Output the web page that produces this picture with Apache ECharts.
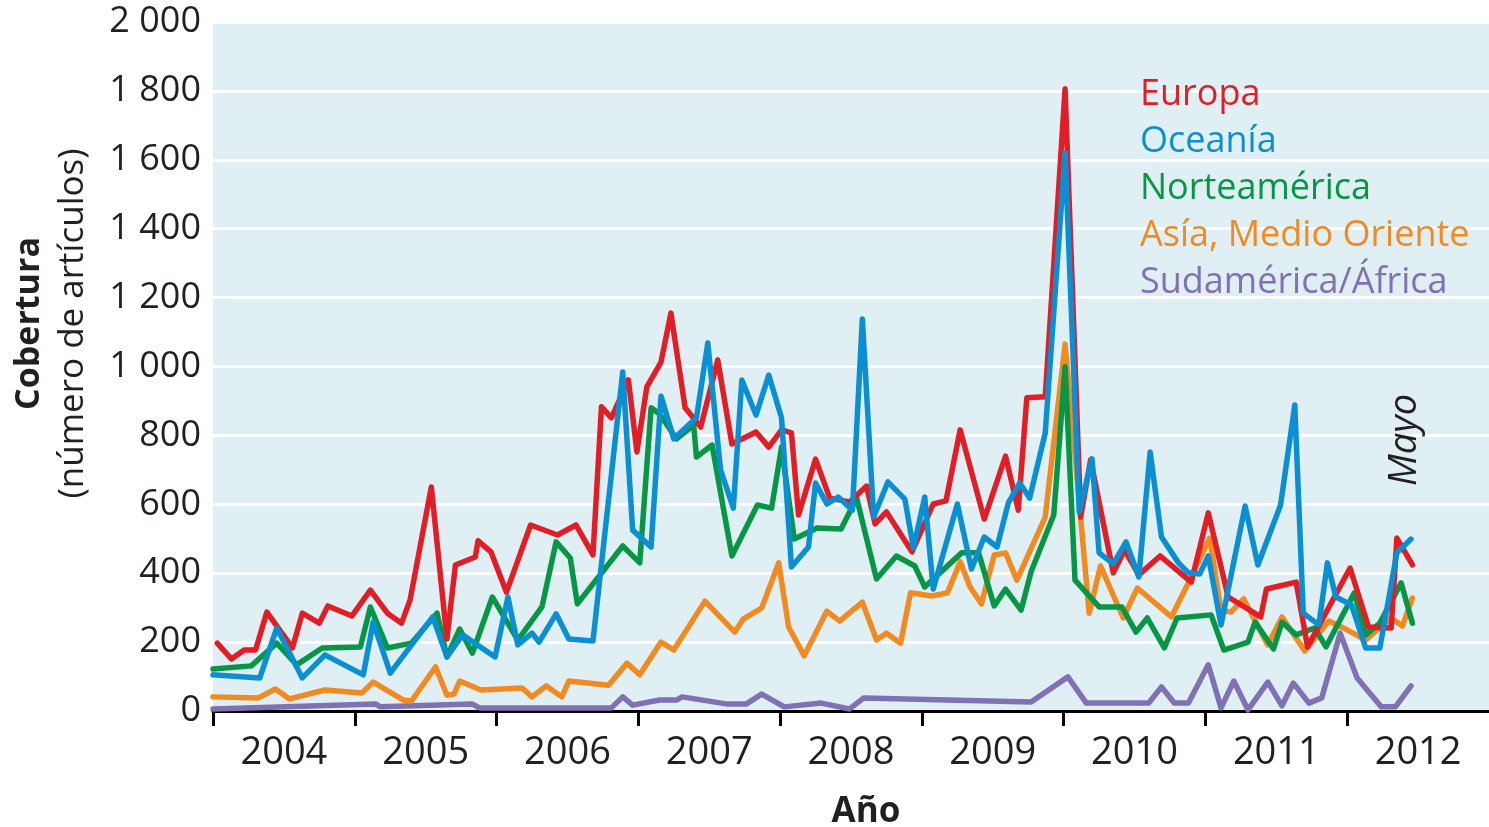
<!DOCTYPE html>
<html>
<head>
<meta charset="utf-8">
<script src="https://cdn.jsdelivr.net/npm/echarts@6/dist/echarts.min.js"></script>
<style>
  html, body { margin: 0; padding: 0; background: #fff; }
  #chart { width: 1489px; height: 827px; }
</style>
</head>
<body>
<div id="chart"></div>
<script>
// [año decimal, artículos]
const europa = [
  [2004.03, 197], [2004.13, 151], [2004.22, 177], [2004.30, 177], [2004.38, 287], [2004.56, 183],
  [2004.63, 284], [2004.75, 255], [2004.81, 305], [2004.98, 276], [2005.11, 351], [2005.23, 284],
  [2005.33, 255], [2005.39, 322], [2005.54, 650], [2005.65, 209], [2005.71, 424], [2005.85, 447],
  [2005.87, 494], [2005.96, 462], [2006.07, 345], [2006.24, 540], [2006.43, 511], [2006.56, 540],
  [2006.68, 453], [2006.74, 883], [2006.81, 851], [2006.93, 961], [2006.99, 752], [2007.06, 941],
  [2007.16, 1013], [2007.23, 1155], [2007.33, 880], [2007.44, 824], [2007.56, 1019], [2007.66, 775],
  [2007.83, 810], [2007.92, 766], [2008.01, 816], [2008.08, 807], [2008.13, 569], [2008.25, 731],
  [2008.35, 618], [2008.49, 607], [2008.61, 653], [2008.67, 543], [2008.75, 578], [2008.93, 462],
  [2009.08, 601], [2009.17, 610], [2009.27, 816], [2009.44, 557], [2009.59, 740], [2009.68, 583],
  [2009.74, 909], [2009.87, 912], [2010.01, 1806], [2010.12, 563], [2010.19, 729], [2010.35, 401],
  [2010.43, 467], [2010.53, 395], [2010.68, 450], [2010.90, 374], [2011.02, 575], [2011.16, 331],
  [2011.39, 273], [2011.43, 354], [2011.64, 374], [2011.72, 186], [2012.02, 415], [2012.15, 244],
  [2012.31, 241], [2012.35, 502], [2012.46, 424]
];
const oceania = [
  [2004.00, 105], [2004.33, 96], [2004.45, 241], [2004.63, 96], [2004.79, 163], [2005.06, 105],
  [2005.13, 258], [2005.25, 110], [2005.55, 273], [2005.65, 157], [2005.76, 221], [2005.99, 157],
  [2006.08, 331], [2006.15, 192], [2006.25, 226], [2006.30, 200], [2006.42, 282], [2006.51, 209],
  [2006.68, 203], [2006.89, 984], [2006.96, 525], [2007.09, 476], [2007.16, 914], [2007.25, 790],
  [2007.41, 851], [2007.49, 1068], [2007.58, 700], [2007.67, 589], [2007.73, 961], [2007.83, 859],
  [2007.92, 975], [2008.01, 851], [2008.08, 418], [2008.20, 476], [2008.25, 662], [2008.33, 601],
  [2008.41, 621], [2008.51, 583], [2008.58, 1138], [2008.66, 563], [2008.76, 665], [2008.88, 615],
  [2008.94, 473], [2009.02, 621], [2009.08, 354], [2009.25, 601], [2009.35, 412], [2009.44, 505],
  [2009.53, 476], [2009.61, 604], [2009.69, 662], [2009.76, 618], [2009.87, 807], [2010.01, 1620],
  [2010.11, 578], [2010.20, 732], [2010.25, 459], [2010.35, 427], [2010.44, 491], [2010.53, 389],
  [2010.61, 752], [2010.69, 505], [2010.81, 430], [2010.88, 401], [2010.96, 398], [2011.02, 450],
  [2011.11, 250], [2011.28, 595], [2011.37, 424], [2011.53, 598], [2011.63, 888], [2011.69, 284],
  [2011.80, 250], [2011.86, 430], [2011.92, 331], [2012.03, 308], [2012.13, 183], [2012.23, 183],
  [2012.35, 459], [2012.45, 499]
];
const norteamerica = [
  [2004.00, 122], [2004.27, 131], [2004.45, 197], [2004.59, 134], [2004.77, 183], [2005.04, 186],
  [2005.11, 302], [2005.23, 183], [2005.40, 197], [2005.58, 284], [2005.65, 157], [2005.74, 238],
  [2005.83, 168], [2005.97, 331], [2006.15, 206], [2006.32, 302], [2006.42, 491], [2006.52, 444],
  [2006.57, 311], [2006.89, 479], [2007.01, 430], [2007.09, 880], [2007.15, 862], [2007.27, 790],
  [2007.39, 830], [2007.41, 737], [2007.52, 772], [2007.66, 450], [2007.84, 598], [2007.94, 589],
  [2008.01, 766], [2008.10, 499], [2008.26, 531], [2008.43, 528], [2008.54, 618], [2008.68, 383],
  [2008.82, 450], [2008.95, 421], [2009.02, 360], [2009.28, 459], [2009.40, 459], [2009.51, 305],
  [2009.59, 354], [2009.70, 293], [2009.77, 404], [2009.93, 569], [2010.01, 999], [2010.08, 380],
  [2010.25, 302], [2010.41, 302], [2010.51, 229], [2010.59, 270], [2010.71, 183], [2010.80, 270],
  [2011.04, 279], [2011.13, 177], [2011.30, 200], [2011.35, 258], [2011.48, 180], [2011.54, 258],
  [2011.64, 221], [2011.77, 241], [2011.85, 186], [2012.05, 343], [2012.13, 221], [2012.23, 255],
  [2012.38, 372], [2012.46, 255]
];
const asia = [
  [2004.00, 41], [2004.32, 38], [2004.44, 64], [2004.54, 35], [2004.79, 61], [2005.05, 52],
  [2005.13, 84], [2005.34, 32], [2005.40, 29], [2005.57, 128], [2005.65, 46], [2005.70, 49],
  [2005.74, 87], [2005.89, 61], [2006.18, 67], [2006.25, 41], [2006.35, 73], [2006.46, 41],
  [2006.51, 87], [2006.79, 75], [2006.92, 139], [2007.01, 105], [2007.16, 200], [2007.25, 177],
  [2007.47, 319], [2007.68, 229], [2007.74, 267], [2007.87, 299], [2007.99, 430], [2008.06, 244],
  [2008.17, 160], [2008.33, 290], [2008.42, 261], [2008.58, 316], [2008.68, 206], [2008.75, 226],
  [2008.85, 197], [2008.92, 343], [2009.07, 334], [2009.18, 343], [2009.27, 433], [2009.34, 360],
  [2009.42, 311], [2009.51, 453], [2009.59, 459], [2009.67, 380], [2009.87, 563], [2010.01, 1065],
  [2010.18, 284], [2010.26, 421], [2010.42, 270], [2010.52, 357], [2010.76, 273], [2010.88, 372],
  [2011.03, 502], [2011.11, 293], [2011.18, 287], [2011.27, 325], [2011.44, 192], [2011.54, 273],
  [2011.70, 174], [2011.87, 261], [2011.96, 244], [2012.13, 206], [2012.31, 270], [2012.39, 247],
  [2012.46, 328]
];
const sudamerica = [
  [2004.00, 6], [2005.15, 20], [2005.18, 12], [2005.83, 20], [2005.88, 9], [2006.81, 9],
  [2006.89, 41], [2006.96, 17], [2007.15, 32], [2007.27, 32], [2007.31, 41], [2007.63, 20],
  [2007.76, 20], [2007.87, 49], [2008.03, 12], [2008.29, 23], [2008.49, 6], [2008.59, 38],
  [2009.77, 26], [2010.03, 99], [2010.16, 23], [2010.60, 23], [2010.69, 70], [2010.78, 23],
  [2010.88, 23], [2011.02, 134], [2011.11, 9], [2011.20, 87], [2011.30, 3], [2011.44, 84],
  [2011.54, 15], [2011.62, 81], [2011.73, 23], [2011.82, 38], [2011.95, 226], [2012.07, 96],
  [2012.24, 12], [2012.34, 12], [2012.45, 73]
];
const years = [2004, 2005, 2006, 2007, 2008, 2009, 2010, 2011, 2012];
const mayo = [2012.41, 787];

const font = '"Open Sans", "Noto Sans", sans-serif';
const chart = echarts.init(document.getElementById('chart'));

function serie(name, data, color) {
  return {
    name: name,
    type: 'line',
    data: data,
    symbol: 'none',
    animation: false,
    lineStyle: { color: color, width: 5.5, join: 'round', cap: 'round' },
    itemStyle: { color: color }
  };
}

const option = {
  backgroundColor: '#fff',
  grid: {
    left: 213, right: 0, top: 22, bottom: 116,
    outerBoundsMode: 'none',
    show: true, backgroundColor: '#e0eff3', borderWidth: 0
  },
  legend: {
    orient: 'vertical',
    left: 1130,
    top: 72,
    icon: 'none',
    itemWidth: 0,
    itemGap: 11,
    textStyle: { fontFamily: font, fontSize: 36 },
    data: [
      { name: 'Europa', textStyle: { color: '#e31d25' } },
      { name: 'Oceanía', textStyle: { color: '#0b8fd3' } },
      { name: 'Norteamérica', textStyle: { color: '#079645' } },
      { name: 'Asía, Medio Oriente', textStyle: { color: '#f18a21' } },
      { name: 'Sudamérica/África', textStyle: { color: '#8070b4' } }
    ],
    selectedMode: false
  },
  xAxis: {
    type: 'value',
    min: 2004,
    max: 2013,
    name: 'Año',
    nameLocation: 'middle',
    nameGap: 84,
    nameTextStyle: {
      fontFamily: font, fontSize: 35, fontWeight: 'bold', color: '#231f20',
      padding: [0, 0, 0, 30]
    },
    axisLine: { show: true, lineStyle: { color: '#000', width: 3 } },
    axisTick: {
      show: true, length: 15, lineStyle: { color: '#000', width: 3 },
      customValues: years
    },
    axisLabel: {
      customValues: years.map(y => y + 0.5),
      formatter: v => String(Math.floor(v)),
      fontFamily: font, fontSize: 38, color: '#231f20', margin: 23
    },
    splitLine: { show: false }
  },
  yAxis: {
    type: 'value',
    min: 0,
    max: 2000,
    interval: 200,
    name: '{b|Cobertura}\n{n|(número de artículos)}',
    nameLocation: 'middle',
    nameRotate: 90,
    nameGap: 118,
    nameTextStyle: {
      fontFamily: font, color: '#231f20',
      padding: [0, 0, 0, 86],
      rich: {
        b: { fontFamily: font, fontSize: 34, fontWeight: 'bold', color: '#231f20', lineHeight: 44 },
        n: { fontFamily: font, fontSize: 35, color: '#231f20', lineHeight: 44 }
      }
    },
    axisLine: { show: false },
    axisTick: { show: false },
    axisLabel: {
      fontFamily: font, fontSize: 36, color: '#231f20', margin: 12,
      formatter: v => v >= 1000 ? Math.floor(v / 1000) + ' ' + String(v % 1000).padStart(3, '0') : String(v)
    },
    splitLine: { show: true, lineStyle: { color: '#fff', width: 3 } }
  },
  series: [
    serie('Sudamérica/África', sudamerica, '#8070b4'),
    serie('Asía, Medio Oriente', asia, '#f18a21'),
    serie('Norteamérica', norteamerica, '#079645'),
    serie('Europa', europa, '#e31d25'),
    Object.assign(serie('Oceanía', oceania, '#0b8fd3'), {
      markPoint: {
        symbol: 'circle',
        symbolSize: 1,
        itemStyle: { color: 'rgba(0,0,0,0)' },
        data: [{ coord: mayo, value: 'Mayo' }],
        label: {
          show: true, position: 'inside', formatter: 'Mayo', rotate: 90,
          fontFamily: font, fontSize: 38, fontStyle: 'italic', color: '#231f20'
        }
      }
    })
  ]
};
chart.setOption(option);
</script>
</body>
</html>
